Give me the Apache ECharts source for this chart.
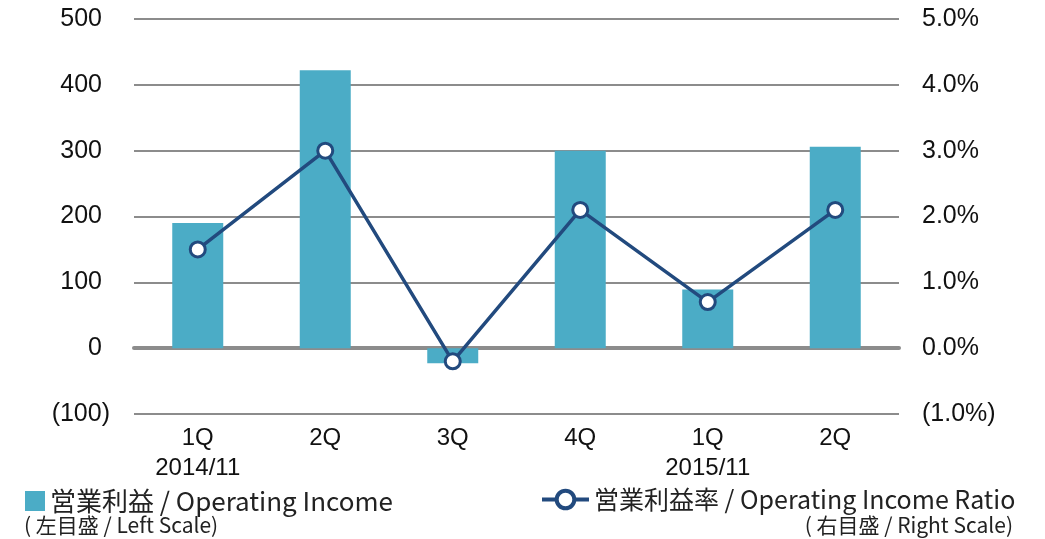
<!DOCTYPE html>
<html>
<head>
<meta charset="utf-8">
<script src="https://cdn.jsdelivr.net/npm/echarts@6/dist/echarts.min.js"></script>
<style>
  html, body { margin: 0; padding: 0; background: #fff; }
  #chart { width: 1045px; height: 539px; }
</style>
</head>
<body>
<div id="chart"></div>
<script>
// Quarter labels (fiscal year shown under the first quarter of each year)
const categories = ['1Q\n2014/11', '2Q', '3Q', '4Q', '1Q\n2015/11', '2Q'];
// Operating income (left scale)
const operatingIncome = [190, 422, -23, 300, 89, 306];
// Operating income ratio in % (right scale)
const incomeRatio = [1.5, 3.0, -0.2, 2.1, 0.7, 2.1];

const leftTicks = { min: -100, max: 500, interval: 100 };
const rightTicks = { min: -1, max: 5, interval: 1 };

const barName = '営業利益 / Operating Income';
const lineName = '営業利益率 / Operating Income Ratio';

const LATIN = '"Liberation Sans", Arial, sans-serif';
const CJK = '"Noto Sans CJK JP", "Noto Sans", sans-serif';
const GRID_COLOR = '#8c8c8c';
const LINE_COLOR = '#224a7e';

const chart = echarts.init(document.getElementById('chart'));

chart.setOption({
  animation: false,
  backgroundColor: '#fff',
  grid: { left: 134, right: 146, top: 19, bottom: 125 },
  legend: [
    {
      data: [barName],
      left: 25, top: 488, padding: 0,
      icon: 'rect', itemWidth: 20, itemHeight: 20,
      textStyle: { fontFamily: CJK, fontSize: 26, color: '#222' }
    },
    {
      data: [lineName],
      left: 540, top: 487, padding: 0,
      itemWidth: 47, itemHeight: 22,
      lineStyle: { width: 4 },
      itemStyle: { borderWidth: 4 },
      textStyle: { fontFamily: CJK, fontSize: 25, color: '#222' }
    }
  ],
  graphic: [
    {
      type: 'text', left: 24, top: 515,
      style: { text: '( 左目盛 / Left Scale)', font: '21px ' + CJK, fill: '#222' }
    },
    {
      type: 'text', right: 32, top: 515,
      style: { text: '( 右目盛 / Right Scale)', font: '21px ' + CJK, fill: '#222' }
    }
  ],
  xAxis: {
    type: 'category',
    data: categories,
    axisTick: { show: false },
    axisLine: { show: true, onZero: true, lineStyle: { color: GRID_COLOR, width: 4 } },
    axisLabel: {
      fontFamily: LATIN, fontSize: 24, lineHeight: 30, color: '#111',
      margin: 9, interval: 0
    }
  },
  yAxis: [
    {
      type: 'value',
      min: leftTicks.min, max: leftTicks.max, interval: leftTicks.interval,
      axisLine: { show: false },
      axisTick: { show: false },
      splitLine: { lineStyle: { color: GRID_COLOR, width: 2 } },
      axisLabel: {
        margin: 24,
        fontFamily: LATIN, fontSize: 25, color: '#111',
        formatter: v => v < 0 ? '(' + (-v) + ')' : '{p|' + v + '}',
        rich: { p: { fontFamily: LATIN, fontSize: 25, color: '#111', padding: [0, 8, 0, 0] } }
      }
    },
    {
      type: 'value',
      min: rightTicks.min, max: rightTicks.max, interval: rightTicks.interval,
      axisLine: { show: false },
      axisTick: { show: false },
      splitLine: { show: false },
      axisLabel: {
        margin: 23,
        fontFamily: LATIN, fontSize: 25, color: '#111',
        formatter: v => v < 0 ? '(' + (-v).toFixed(1) + '%)' : v.toFixed(1) + '%'
      }
    }
  ],
  series: [
    {
      name: barName,
      type: 'bar',
      yAxisIndex: 0,
      data: operatingIncome,
      barWidth: '40%',
      itemStyle: { color: '#4bacc6' }
    },
    {
      name: lineName,
      type: 'line',
      yAxisIndex: 1,
      data: incomeRatio,
      symbol: 'circle',
      symbolSize: 15,
      lineStyle: { color: LINE_COLOR, width: 3.5 },
      itemStyle: { color: '#fff', borderColor: LINE_COLOR, borderWidth: 3 },
      z: 5
    }
  ]
});
</script>
</body>
</html>
